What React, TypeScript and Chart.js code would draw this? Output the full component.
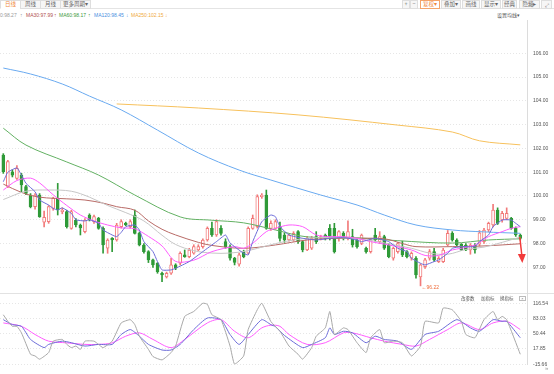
import React, { useEffect, useRef } from 'react';
import { Chart, registerables } from 'chart.js';
Chart.register(...registerables);

// ---------- data ----------
const candleOpen = [101.72,100.40,101.02,100.74,100.88,100.39,100.04,99.55,100.04,98.90,98.92,99.48,99.90,99.34,99.34,98.64,98.99,98.78,98.50,99.20,98.92,99.06,98.64,97.80,98.22,98.15,98.71,98.85,98.71,99.20,98.43,97.94,97.66,97.31,97.17,96.75,96.60,96.75,97.10,97.17,97.52,97.45,97.59,97.73,97.87,98.15,98.64,98.36,98.64,98.08,97.87,97.38,97.13,97.66,97.59,98.64,98.71,99.97,100.04,98.64,98.64,98.71,98.36,98.15,98.15,98.50,98.08,97.73,97.80,98.29,98.22,98.36,98.64,98.64,98.22,98.43,98.22,98.29,98.15,98.00,97.80,97.66,98.36,98.08,98.29,97.94,97.38,97.66,97.87,97.66,97.38,97.38,96.60,97.03,97.38,97.66,97.24,97.24,97.94,98.43,98.15,97.97,97.94,97.73,97.94,97.97,98.08,98.57,98.78,99.41,98.99,99.06,99.06,98.64,98.36];
const candleHigh = [101.78,101.50,101.10,101.28,100.95,100.45,100.10,100.10,100.10,99.37,99.60,99.95,100.53,99.50,99.40,99.40,99.05,98.82,99.05,99.25,99.20,99.10,98.70,98.20,98.25,98.85,99.00,98.90,99.00,99.41,98.48,98.00,97.70,97.35,97.20,96.80,96.80,97.38,97.15,97.65,97.73,97.80,97.95,97.95,98.20,98.70,98.90,99.00,98.75,98.20,97.95,97.42,97.60,97.72,98.70,99.20,100.05,100.10,100.25,98.95,99.00,98.90,98.45,98.40,98.50,98.55,98.12,98.30,98.30,98.50,98.35,98.40,98.80,98.85,98.55,98.50,98.95,98.60,98.20,98.40,97.85,98.20,98.64,98.50,98.35,98.00,97.85,98.05,98.10,97.70,97.65,97.45,97.15,97.38,97.75,97.80,97.45,97.80,98.55,98.50,98.20,98.00,98.00,98.00,98.00,98.55,98.64,98.90,99.65,99.50,99.35,99.50,99.10,98.70,98.40];
const candleLow = [100.95,100.35,100.80,100.70,100.18,100.05,99.50,99.45,99.10,98.70,98.85,99.40,99.20,99.25,98.65,98.60,98.70,98.36,98.45,98.95,98.85,98.60,97.59,97.59,97.66,98.10,98.65,98.75,98.65,98.40,97.90,97.60,97.20,97.00,96.75,96.40,96.55,96.70,96.90,97.10,97.42,97.40,97.55,97.70,97.80,98.10,98.30,98.30,98.35,97.80,97.30,97.10,97.05,97.40,97.55,98.60,98.65,99.90,98.60,98.55,98.60,98.10,98.05,98.10,98.10,98.00,97.65,97.70,97.75,98.00,98.15,98.15,98.15,97.60,98.10,98.15,98.15,97.85,97.80,97.95,97.60,97.60,98.10,98.00,97.75,97.40,97.30,97.60,97.45,97.40,97.30,96.54,96.22,96.95,97.30,97.25,97.20,97.20,97.90,98.10,97.90,97.70,97.70,97.55,97.60,97.90,98.00,98.50,98.70,98.80,98.90,99.00,98.60,98.30,98.15];
const candleClose = [101.02,101.45,100.88,101.16,100.46,100.11,99.55,100.04,99.13,99.10,99.55,99.90,99.41,99.41,98.71,99.34,98.78,98.66,98.99,98.99,99.13,98.64,97.94,98.15,98.15,98.78,98.92,98.78,98.92,98.43,97.94,97.66,97.31,97.10,96.82,96.68,96.75,97.10,96.96,97.59,97.45,97.73,97.87,97.87,98.15,98.64,98.36,98.92,98.43,97.87,97.38,97.21,97.52,97.45,98.64,99.06,99.97,100.04,98.64,98.85,98.92,98.22,98.15,98.36,98.43,98.08,97.73,98.22,98.22,98.08,98.29,98.22,98.22,97.66,98.50,98.22,98.50,97.94,97.87,98.36,97.66,98.15,98.15,98.29,97.80,97.45,97.80,98.00,97.52,97.45,97.59,96.68,97.10,97.31,97.66,97.31,97.38,97.73,98.43,98.15,97.94,97.73,97.73,97.94,97.73,98.45,98.57,98.85,99.41,98.85,99.27,99.27,98.64,98.36,98.22];

// moving averages: [candle index, value]
const ma5 = [[0,100.6],[1,101.0],[3,101.18],[4,100.88],[5,100.53],[7,100.18],[8,99.83],[10,99.62],[11,99.48],[12,99.41],[13,99.5],[15,99.27],[16,99.0],[18,98.95],[19,99.0],[21,98.85],[22,98.57],[24,98.36],[25,98.29],[26,98.47],[27,98.71],[29,98.78],[30,98.57],[31,98.08],[33,97.66],[34,97.24],[35,96.89],[37,96.89],[38,96.96],[41,97.24],[44,97.66],[47,98.08],[49,98.36],[50,98.02],[53,97.59],[54,97.52],[55,98.08],[57,98.92],[59,99.2],[60,99.13],[61,98.71],[63,98.36],[66,98.22],[69,98.15],[72,98.22],[75,98.25],[78,98.15],[79,98.08],[82,98.22],[85,98.08],[87,97.8],[89,97.66],[90,97.38],[92,97.17],[93,97.1],[95,97.24],[96,97.31],[98,97.59],[99,97.8],[101,97.87],[104,97.87],[105,98.08],[107,98.36],[108,98.71],[110,98.99],[112,98.99],[113,98.85],[114,98.71]];
const ma10 = [[0,100.25],[3,100.65],[6,100.75],[8,100.55],[11,100.05],[14,99.6],[17,99.2],[20,98.95],[23,98.78],[26,98.66],[29,98.62],[32,98.3],[35,97.9],[38,97.25],[42,97.3],[46,97.66],[51,97.87],[53,97.8],[55,98.01],[58,98.5],[60,98.64],[63,98.78],[66,98.71],[69,98.36],[72,98.29],[75,98.29],[78,98.22],[81,98.08],[85,97.94],[90,97.73],[93,97.5],[96,97.5],[99,97.73],[101,97.8],[104,97.94],[107,98.29],[110,98.5],[112,98.64],[114,98.71]];
const ma20 = [[0,99.85],[5,100.2],[10,100.25],[15,100.2],[19,99.95],[23,99.6],[27,99.3],[31,98.95],[35,98.35],[38,97.96],[42,97.7],[46,97.6],[50,97.6],[54,97.7],[58,97.9],[62,98.08],[66,98.2],[70,98.25],[74,98.25],[78,98.2],[82,98.1],[86,97.95],[90,97.8],[94,97.6],[98,97.55],[102,97.75],[106,97.85],[110,98.05],[114,98.27]];
const ma30 = [[0,100.5],[4,100.15],[8,99.95],[14,99.88],[18,99.83],[22,99.7],[25,99.55],[29,99.4],[32,98.95],[35,98.6],[38,98.36],[43,98.05],[46,97.92],[53,97.8],[60,97.94],[67,98.15],[74,98.22],[78,98.22],[84,98.2],[88,98.0],[91,97.87],[99,97.87],[106,97.9],[114,97.99]];
const ma60 = [[0,102.85],[5,102.14],[14,101.43],[21,100.88],[29,100.04],[39,99.12],[46,98.98],[53,98.87],[60,98.57],[67,98.28],[78,98.24],[87,98.12],[99,98.02],[107,98.15],[114,98.2]];
const ma120 = [[0,105.38],[6,105.13],[13,104.71],[19,104.2],[26,103.62],[34,102.77],[43,101.81],[52,101.09],[59,100.67],[70,100.04],[78,99.62],[84,99.2],[91,98.78],[99,98.57],[106,98.49],[114,98.43]];
const ma250 = [[25,103.87],[43,103.7],[65,103.41],[87,102.98],[99,102.69],[105,102.32],[114,102.15]];

// KDJ: [candle index, value]
const kdjK = [[0,81],[2,70.3],[4,66.7],[6,38.4],[9,20.7],[10,27.7],[13,34.7],[15,31.3],[18,24.1],[21,27.7],[24,27.7],[26,49],[28,59.7],[30,45.4],[32,27.7],[35,15.6],[37,15.6],[39,27.7],[42,59.7],[45,84.6],[48,81],[50,49],[52,27.7],[54,49],[57,81],[59,70.3],[60,66],[62,47],[66,20.7],[68,27.7],[71,42],[72,63.3],[73,49],[75,56],[77,52.6],[80,31.3],[82,45.4],[84,38.4],[87,34.7],[90,17],[93,49],[96,56],[100,81],[103,63.3],[105,56],[108,81],[110,77.4],[111,77.4],[114,42]];
const kdjD = [[0,74],[4,66.7],[7,49],[10,34.7],[14,31],[18,27.7],[21,27.7],[24,31],[27,45.4],[30,52.6],[33,38.4],[37,20.7],[40,38.4],[45,74],[48,81],[51,56],[54,42],[57,63.3],[59,69],[61,66.7],[63,49],[67,27.7],[71,31.3],[75,52.6],[77,52.6],[81,42],[84,34.7],[88,27.7],[91,24.1],[94,38.4],[98,59.7],[101,74],[105,59.7],[108,74],[111,77.4],[114,59.7]];
const kdjJ = [[0,91.6],[1,77.4],[2,66.7],[3,66.7],[4,52.6],[6,6.4],[7,2.8],[8,-4.2],[10,10],[11,34.7],[13,38.4],[14,27.7],[15,20.7],[16,24.1],[17,17],[18,34.7],[20,34.7],[21,27.7],[22,20.7],[24,34.7],[26,74],[28,81],[29,70.3],[30,45.4],[32,17],[33,1.5],[35,-5.7],[37,10],[38,24.1],[40,88],[42,98.7],[44,116.5],[45,114],[46,91.6],[48,81],[50,24.1],[51,-15],[53,2.8],[54,59.7],[56,102.3],[57,116.5],[59,77],[61,56],[63,24.1],[65,6.4],[66,-4.2],[68,20.7],[69,45.4],[71,63.3],[72,98.7],[73,49],[75,63.3],[76,59.7],[78,31.3],[80,10],[81,42],[83,59.7],[84,31.3],[86,34.7],[88,31.3],[90,2.8],[92,24.1],[93,77.4],[96,74],[97,106],[99,102.3],[101,77.4],[102,49],[104,42],[106,81],[108,98.7],[109,81],[110,88],[111,81],[114,6.4]];

const monthLabels = ['06', '07', '08', '09', '10'];
const monthStart = [15, 36, 59, 80, 102];
const priceTicks = [97, 98, 99, 100, 101, 102, 103, 104, 105, 106];
const kdjTicks = [116.54, 83.03, 50.44, 17.85, -15.66];

const legendItems = [
  { t: 'MA20:98.27', a: '↑', c: '#9a9a9a', x: -10.3, ax: 20 },
  { t: 'MA30:97.99', a: '↑', c: '#b0504c', x: 26, ax: 54 },
  { t: 'MA60:98.17', a: '↑', c: '#3d9a3d', x: 59, ax: 88 },
  { t: 'MA120:98.45', a: '↓', c: '#4a8fe0', x: 94, ax: 126 },
  { t: 'MA250:102.15', a: '↓', c: '#efa93a', x: 131, ax: 165 },
];

// ---------- styles ----------
const UP = '#f27a7a';
const DOWN = '#2f9a38';
const AXIS_FONT = { size: 5, family: '"Liberation Sans", Arial, sans-serif' };
const CJK = '"Noto Sans CJK SC", "Liberation Sans", sans-serif';
const X_MIN = -0.73;
const X_MAX = 115.48;

const pts = (arr: number[][]) => arr.map(([x, y]) => ({ x, y }));

function lineDs(label: string, arr: number[][], color: string, tension: number) {
  return {
    type: 'line' as const,
    label,
    data: pts(arr),
    borderColor: color,
    borderWidth: 1,
    pointRadius: 0,
    tension,
    fill: false,
    order: 0,
  };
}

const tb: React.CSSProperties = {
  position: 'absolute', top: 0, height: 9, boxSizing: 'border-box',
  border: '1px solid #dedede', background: '#f6f6f6', color: '#666',
  fontSize: 5.5, lineHeight: '7px', textAlign: 'center', fontFamily: CJK, whiteSpace: 'nowrap',
};

export default function App() {
  const topRef = useRef<HTMLCanvasElement>(null);
  const botRef = useRef<HTMLCanvasElement>(null);

  useEffect(() => {
    const idx = candleOpen.map((_, i) => i);
    const up = idx.map((i) => candleClose[i] >= candleOpen[i]);

    const markPlugin = {
      id: 'marks',
      afterDatasetsDraw(chart: any) {
        const { ctx, scales } = chart;
        const x = scales.x, y = scales.y;
        const minLow = Math.min(...candleLow);
        const li = candleLow.indexOf(minLow);
        const px = x.getPixelForValue(li);
        const py = y.getPixelForValue(minLow);
        ctx.save();
        ctx.fillStyle = '#ee6a38';
        ctx.font = '5px "Liberation Sans", sans-serif';
        ctx.textBaseline = 'middle';
        ctx.textAlign = 'left';
        ctx.fillText('←' + minLow.toFixed(2), px + 1, py + 1.5);
        const last = candleClose.length - 1;
        const ax = x.getPixelForValue(last);
        const ay = y.getPixelForValue(candleLow[last]);
        ctx.strokeStyle = '#f23a3a';
        ctx.fillStyle = '#f23a3a';
        ctx.lineWidth = 1.5;
        ctx.beginPath();
        ctx.moveTo(ax - 0.5, ay - 3);
        ctx.lineTo(ax + 1.5, ay + 15);
        ctx.stroke();
        ctx.beginPath();
        ctx.moveTo(ax - 2.5, ay + 14);
        ctx.lineTo(ax + 5.5, ay + 14);
        ctx.lineTo(ax + 2, ay + 23);
        ctx.closePath();
        ctx.fill();
        ctx.restore();
      },
    };

    const yAxisCommon = (min: number, max: number, ticks: number[]) => ({
      position: 'right' as const,
      min, max,
      afterBuildTicks: (s: any) => { s.ticks = ticks.map((v) => ({ value: v })); },
      afterFit: (s: any) => { s.width = 27; s.paddingTop = 0; s.paddingBottom = 0; },
      ticks: {
        autoSkip: false, font: AXIS_FONT, color: '#555', padding: 6,
        callback: (v: any) => Number(v).toFixed(2),
      },
      grid: { color: '#e6e6e6', drawTicks: false, lineWidth: 1 },
      border: { display: true, color: '#dcdcdc', width: 1, dash: [1, 2] },
    });

    const top = new Chart(topRef.current as HTMLCanvasElement, {
      type: 'bar',
      data: {
        datasets: [
          lineDs('MA5', ma5, '#6c6cd8', 0.15),
          lineDs('MA10', ma10, '#ff5cff', 0.3),
          lineDs('MA20', ma20, '#c6c6c6', 0.35),
          lineDs('MA30', ma30, '#b86a66', 0.35),
          lineDs('MA60', ma60, '#63b163', 0.35),
          lineDs('MA120', ma120, '#6aaaf0', 0.35),
          lineDs('MA250', ma250, '#f7c15c', 0.35),
          {
            type: 'bar', label: 'body',
            data: idx.map((i) => ({ x: i, y: [candleOpen[i], candleClose[i]] })) as any,
            backgroundColor: idx.map((i) => (up[i] ? '#ffffff' : DOWN)),
            borderColor: idx.map((i) => (up[i] ? UP : DOWN)),
            borderWidth: 1, borderSkipped: false, barThickness: 3, grouped: false, order: 5,
          } as any,
          {
            type: 'bar', label: 'wick',
            data: idx.map((i) => ({ x: i, y: [candleLow[i], candleHigh[i]] })) as any,
            backgroundColor: idx.map((i) => (up[i] ? UP : DOWN)),
            borderWidth: 0, barThickness: 1, grouped: false, order: 6,
          } as any,
        ],
      },
      options: {
        animation: false, responsive: false, devicePixelRatio: 1, events: [],
        layout: { padding: 0 },
        plugins: { legend: { display: false }, tooltip: { enabled: false } },
        scales: {
          x: { type: 'linear', min: X_MIN, max: X_MAX, display: false, offset: false, grid: { display: false } },
          y: yAxisCommon(95.92, 107.4, priceTicks) as any,
        },
      },
      plugins: [markPlugin],
    });

    const bot = new Chart(botRef.current as HTMLCanvasElement, {
      type: 'line',
      data: {
        datasets: [
          lineDs('J', kdjJ, '#a8a8a8', 0.15),
          lineDs('K', kdjK, '#6c6cd8', 0.2),
          lineDs('D', kdjD, '#ff5cff', 0.3),
        ],
      },
      options: {
        animation: false, responsive: false, devicePixelRatio: 1, events: [],
        layout: { padding: 0 },
        plugins: { legend: { display: false }, tooltip: { enabled: false } },
        scales: {
          x: {
            type: 'linear', min: X_MIN, max: X_MAX, offset: false,
            afterBuildTicks: (s: any) => { s.ticks = monthStart.map((v) => ({ value: v })); },
            afterFit: (s: any) => { s.height = 9.5; s.paddingLeft = 0; s.paddingRight = 0; },
            ticks: {
              autoSkip: false, maxRotation: 0, minRotation: 0, font: AXIS_FONT, color: '#777', padding: 1.5,
              callback: (_v: any, i: number) => monthLabels[i],
            },
            grid: { display: false },
            border: { display: false },
          },
          y: yAxisCommon(-15.66, 138.5, kdjTicks) as any,
        },
      },
    });

    return () => { top.destroy(); bot.destroy(); };
  }, []);

  return (
    <div style={{ position: 'fixed', left: 0, top: 0, width: 554, height: 374, background: '#fff', overflow: 'hidden', fontFamily: '"Liberation Sans", sans-serif' }}>
      {/* toolbar row */}
      <div style={{ position: 'absolute', left: 0, top: 8, width: 554, height: 1, background: '#e4e4e4' }} />
      <div style={{ ...tb, left: 0, width: 21, background: '#fff', color: '#f0883a', borderBottom: '1px solid #fff' }}>日线</div>
      <div style={{ ...tb, left: 20, width: 21 }}>周线</div>
      <div style={{ ...tb, left: 40, width: 21 }}>月线</div>
      <div style={{ ...tb, left: 60, width: 31 }}>更多周期▾</div>

      <div style={{ ...tb, left: 402, width: 8 }}>+</div>
      <div style={{ ...tb, left: 410, width: 8 }}>−</div>
      <div style={{ ...tb, left: 420, width: 20, background: '#fff', color: '#f0883a', border: '1px solid #f4a46a' }}>复权▾</div>
      <div style={{ ...tb, left: 441, width: 20 }}>叠加▾</div>
      <div style={{ ...tb, left: 462, width: 18 }}>画线</div>
      <div style={{ ...tb, left: 481, width: 20 }}>显示▾</div>
      <div style={{ ...tb, left: 502, width: 15 }}>经典</div>
      <div style={{ ...tb, left: 519, width: 21 }}>隐藏▸</div>
      <div style={{ ...tb, left: 541, width: 11, fontSize: 5 }}>⤢</div>

      {/* legend row */}
      {legendItems.map((it) => (
        <React.Fragment key={it.t}>
          <div style={{ position: 'absolute', left: it.x, top: 12, fontSize: 5, lineHeight: '6px', color: it.c, whiteSpace: 'nowrap' }}>{it.t}</div>
          <div style={{ position: 'absolute', left: it.ax, top: 12, fontSize: 5, lineHeight: '6px', color: it.c }}>{it.a}</div>
        </React.Fragment>
      ))}
      <div style={{ position: 'absolute', left: 497, top: 12, fontSize: 5, lineHeight: '6px', color: '#555', fontFamily: CJK, whiteSpace: 'nowrap' }}>设置均线▾</div>

      {/* price panel */}
      <canvas ref={topRef} width={554} height={273} style={{ position: 'absolute', left: 0, top: 20, width: 554, height: 273 }} />

      {/* separator */}
      <div style={{ position: 'absolute', left: 0, top: 293, width: 554, height: 1, background: '#e2e2e2' }} />

      {/* KDJ panel */}
      <canvas ref={botRef} width={554} height={81} style={{ position: 'absolute', left: 0, top: 293, width: 554, height: 81 }} />

      <div style={{ position: 'absolute', left: 461, top: 295, fontSize: 4.5, lineHeight: '6px', color: '#555', fontFamily: CJK }}>改参数</div>
      <div style={{ position: 'absolute', left: 481, top: 295, fontSize: 4.5, lineHeight: '6px', color: '#555', fontFamily: CJK }}>加指标</div>
      <div style={{ position: 'absolute', left: 500, top: 295, fontSize: 4.5, lineHeight: '6px', color: '#555', fontFamily: CJK }}>换指标</div>
      <div style={{ position: 'absolute', left: 519, top: 295.5, width: 7, height: 5, boxSizing: 'border-box', border: '1px solid #bbb', fontSize: 4, lineHeight: '3px', textAlign: 'center', color: '#777' }}>×</div>
      <div style={{ position: 'absolute', left: 545, top: 365, fontSize: 6, lineHeight: '7px', color: '#999' }}>»</div>
    </div>
  );
}
